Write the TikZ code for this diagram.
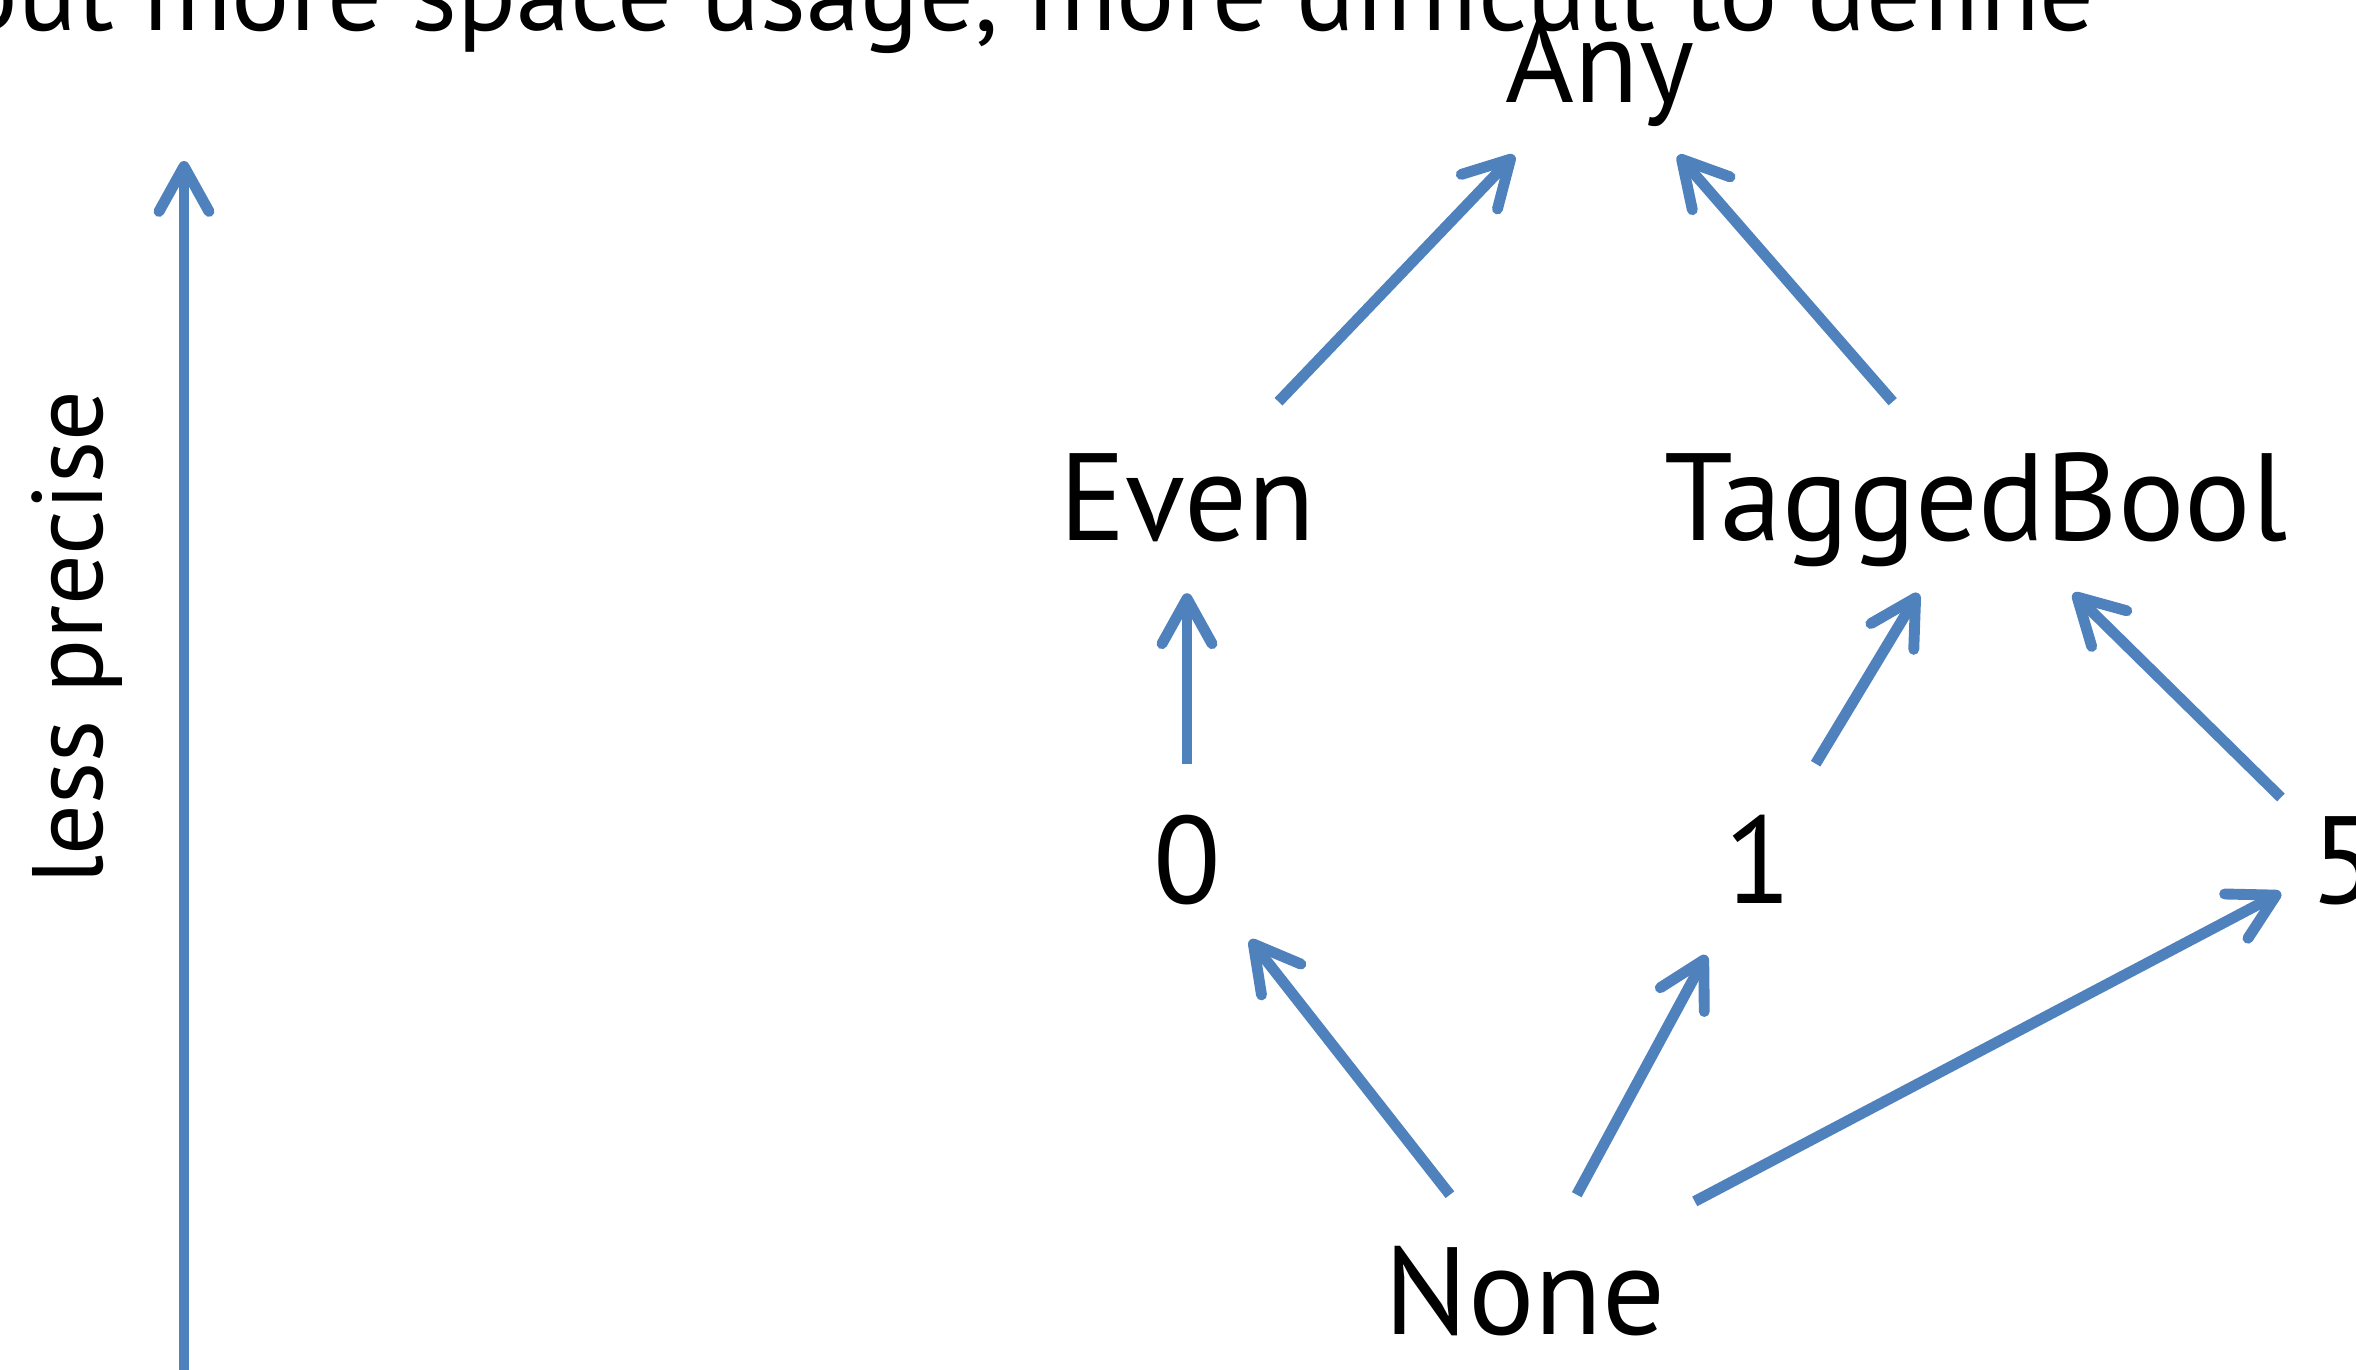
\documentclass[tikz,border=0pt]{standalone}
\usepackage{fontspec}
\setmainfont{PT Sans}
\usetikzlibrary{arrows.meta}
\definecolor{linkblue}{RGB}{79,129,189}
\tikzset{
  big/.style={font=\fontsize{35.3pt}{40pt}\selectfont, text height=0.87cm, text depth=0pt, inner xsep=0.285cm, inner ysep=0.515cm, anchor=base},
  small/.style={font=\fontsize{28.45pt}{32pt}\selectfont, text height=0.7cm, text depth=0pt, inner xsep=0.285cm, inner ysep=0.515cm, anchor=base},
  link/.style={linkblue, line width=3.1pt, -{Straight Barb[length=4.5mm,width=5mm,round]}}
}
\begin{document}
\begin{tikzpicture}[x=0.01cm,y=-0.01cm]
    \useasboundingbox (0,0) rectangle (2356,1370);
    % heading, cut at the top
    \node[small, font=\fontsize{31pt}{34pt}\selectfont, anchor=base east, inner sep=0pt] (caption) at (2096,31) {but more space usage, more difficult to define};
    % axis
    \node[small, rotate=90] (less) at (102,638) {less precise};
    \coordinate (axisfoot) at (184,1400);
    \coordinate (axishead) at (184,161);
    \draw[link] (axisfoot) -- (axishead);
    % lattice
    \node[small, font=\fontsize{33.5pt}{36pt}\selectfont, text height=0.75cm] (any) at (1600,103) {Any};
    \node[big] (even) at (1187,541) {Even};
    \node[big] (tagged) at (1976,541) {TaggedBool};
    \node[big] (zero) at (1187,903) {0};
    \node[big] (one) at (1758,903) {1};
    \node[big] (five) at (2344,903) {5};
    \node[big] (none) at (1525,1334) {None};
    \draw[link] (even) -- (any);
    \draw[link] (tagged) -- (any);
    \draw[link] (zero) -- (even);
    \draw[link] (one) -- (tagged);
    \draw[link] (five) -- (tagged);
    \draw[link] (none) -- (zero);
    \draw[link] (none) -- (one);
    \draw[link] (none) -- (five);
\end{tikzpicture}
\end{document}
